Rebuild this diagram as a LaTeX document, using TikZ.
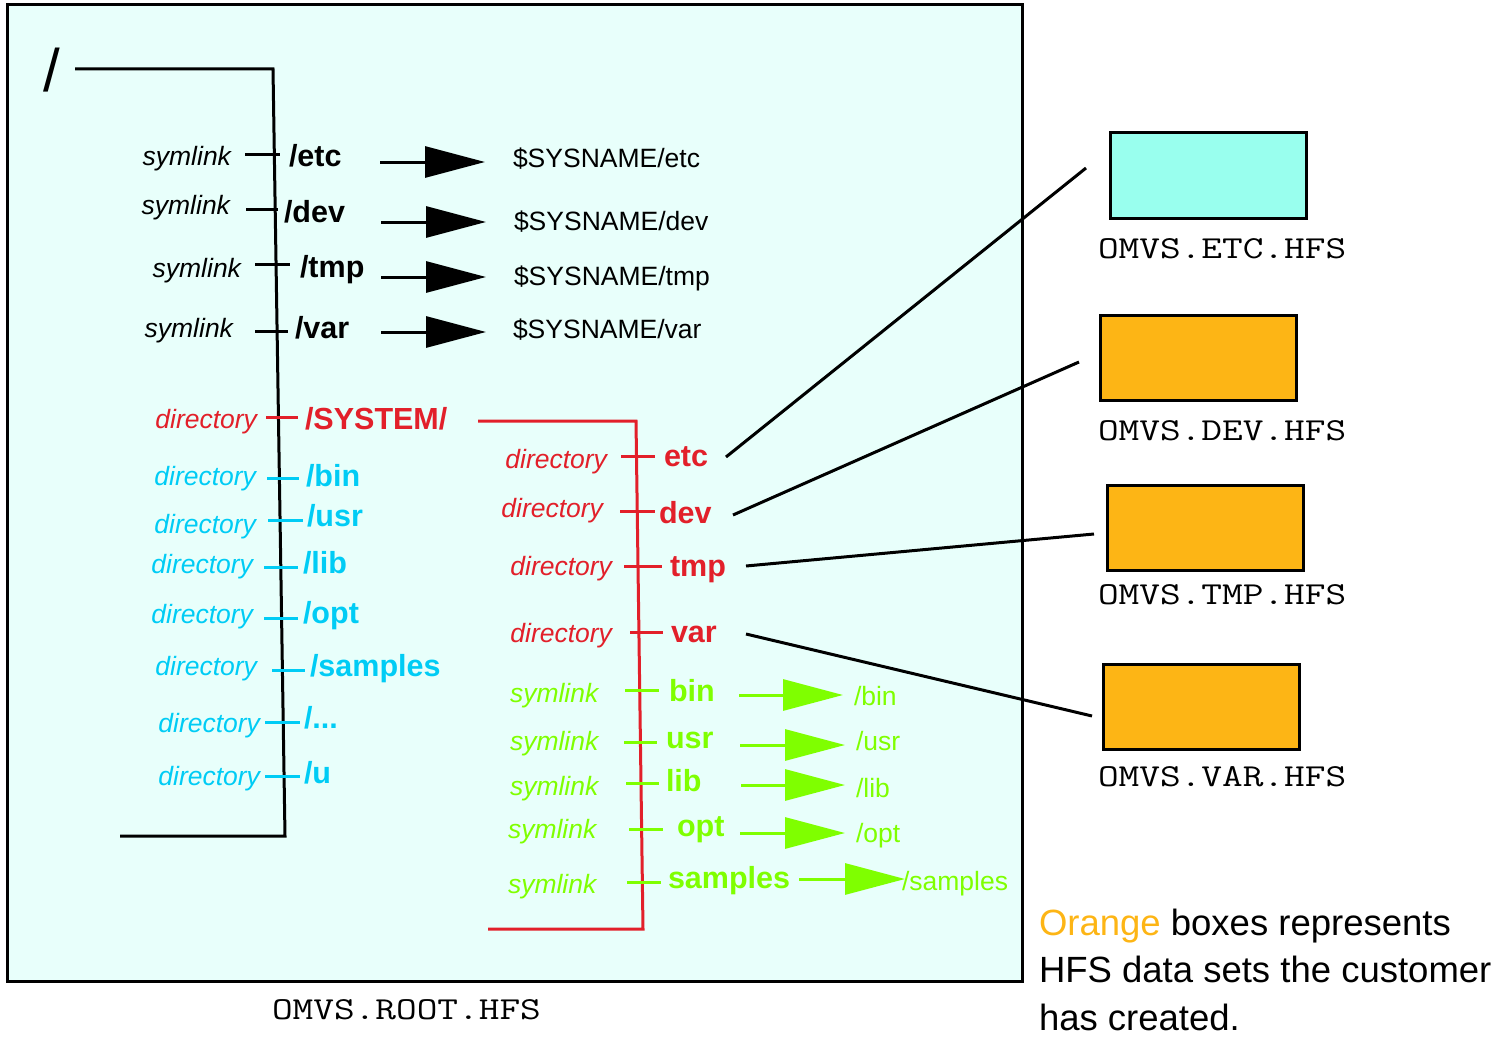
\documentclass[tikz,border=0pt]{standalone}
\usepackage{fontspec}
\setmainfont{Liberation Sans}
\usetikzlibrary{arrows.meta}
\definecolor{bgc}{HTML}{E8FFFB}
\definecolor{rdc}{HTML}{E2202A}
\definecolor{cyc}{HTML}{00CCF5}
\definecolor{grc}{HTML}{7FFF00}
\definecolor{orc}{HTML}{FDB515}
\definecolor{etcc}{HTML}{99FFEE}
\newcommand{\wmono}[1]{\scalebox{1.255}[1]{#1}}
\begin{document}
\begin{tikzpicture}[x=1pt,y=-1pt,
  every node/.style={inner sep=0pt, outer sep=0pt},
  lab/.style={font=\fontsize{26.5}{30}\selectfont\itshape, anchor=base east},
  labw/.style={font=\fontsize{26.5}{30}\selectfont\itshape, anchor=base west},
  big/.style={font=\fontsize{30.5}{34}\selectfont\bfseries, anchor=base west},
  tgt/.style={font=\fontsize{26.5}{30}\selectfont, anchor=base west},
  mono/.style={font=\fontsize{32}{36}\selectfont\ttfamily, anchor=base west},
  tk/.style={line width=3pt},
  arr/.style={line width=3pt, -{Triangle[length=60pt,width=31pt]}},
  hfs/.style={draw, line width=3pt, minimum width=196pt, minimum height=85pt, anchor=north west},
]
\useasboundingbox (0,0) rectangle (1501,1038);
% main box
\node[draw, line width=3pt, fill=bgc, minimum width=1015pt, minimum height=976pt, anchor=north west] (rootbox) at (7,5) {};
\node[mono] (rootlbl) at (272,1019) {\wmono{OMVS.ROOT.HFS}};

% root tree
\node[font=\fontsize{60}{64}\selectfont, anchor=base west] (slash) at (43,92) {/};
\draw[tk] (75,69) -- (273,69) -- (285,836) -- (120,836);

% black symlinks
\node[lab] (s1) at (231,165) {symlink};
\draw[tk] (245,154) -- (280,154);
\node[big] (n1) at (289,166) {/etc};
\draw[arr] (380,162) -- (485,162);
\node[tgt] (t1) at (513,167) {\$SYSNAME/etc};

\node[lab] (s2) at (230,214) {symlink};
\draw[tk] (246,209) -- (278,209);
\node[big] (n2) at (284,222) {/dev};
\draw[arr] (381,222) -- (486,222);
\node[tgt] (t2) at (514,230) {\$SYSNAME/dev};

\node[lab] (s3) at (241,277) {symlink};
\draw[tk] (255,264) -- (290,264);
\node[big] (n3) at (300,277) {/tmp};
\draw[arr] (381,277) -- (486,277);
\node[tgt] (t3) at (514,285) {\$SYSNAME/tmp};

\node[lab] (s4) at (233,337) {symlink};
\draw[tk] (255,331) -- (288,331);
\node[big] (n4) at (295,338) {/var};
\draw[arr] (381,332) -- (486,332);
\node[tgt] (t4) at (513,338) {\$SYSNAME/var};

% red SYSTEM
\begin{scope}[rdc]
\node[lab, text=rdc] (d0) at (257,428) {directory};
\draw[tk] (266,417) -- (298,417);
\node[big, text=rdc] (sys) at (305,429) {/SYSTEM/};
\draw[tk] (478,421) -- (636,421) -- (643,929) -- (488,929);
\end{scope}

% cyan directories
\begin{scope}[cyc]
\node[lab, text=cyc] (c1) at (256,485) {directory};
\draw[tk] (267,478) -- (299,478);
\node[big, text=cyc] (m1) at (306,486) {/bin};
\node[lab, text=cyc] (c2) at (256,533) {directory};
\draw[tk] (268,520) -- (303,520);
\node[big, text=cyc] (m2) at (307,526) {/usr};
\node[lab, text=cyc] (c3) at (253,573) {directory};
\draw[tk] (264,567) -- (298,567);
\node[big, text=cyc] (m3) at (303,573) {/lib};
\node[lab, text=cyc] (c4) at (253,623) {directory};
\draw[tk] (264,618) -- (298,618);
\node[big, text=cyc] (m4) at (303,623) {/opt};
\node[lab, text=cyc] (c5) at (257,675) {directory};
\draw[tk] (272,670) -- (305,670);
\node[big, text=cyc] (m5) at (310,676) {/samples};
\node[lab, text=cyc] (c6) at (260,732) {directory};
\draw[tk] (265,722) -- (300,722);
\node[big, text=cyc] (m6) at (304,728) {/...};
\node[lab, text=cyc] (c7) at (260,785) {directory};
\draw[tk] (265,776) -- (300,776);
\node[big, text=cyc] (m7) at (304,783) {/u};
\end{scope}

% red sub directories
\begin{scope}[rdc]
\node[lab, text=rdc] (r1) at (607,468) {directory};
\draw[tk] (621,456) -- (655,456);
\node[big, text=rdc] (retc) at (664,466) {etc};
\node[lab, text=rdc] (r2) at (603,517) {directory};
\draw[tk] (620,511) -- (655,511);
\node[big, text=rdc] (rdev) at (659,523) {dev};
\node[lab, text=rdc] (r3) at (612,575) {directory};
\draw[tk] (624,566) -- (662,566);
\node[big, text=rdc] (rtmp) at (670,576) {tmp};
\node[lab, text=rdc] (r4) at (612,642) {directory};
\draw[tk] (630,632) -- (663,632);
\node[big, text=rdc] (rvar) at (671,642) {var};
\end{scope}

% green symlinks
\begin{scope}[grc]
\node[labw, text=grc] (g1) at (510,702) {symlink};
\draw[tk] (625,690) -- (659,690);
\node[big, text=grc] (gb1) at (669,701) {bin};
\draw[arr] (739,695) -- (843,695);
\node[tgt, text=grc] (gt1) at (854,705) {/bin};

\node[labw, text=grc] (g2) at (510,750) {symlink};
\draw[tk] (624,742) -- (657,742);
\node[big, text=grc] (gb2) at (666,748) {usr};
\draw[arr] (740,745) -- (845,745);
\node[tgt, text=grc] (gt2) at (856,750) {/usr};

\node[labw, text=grc] (g3) at (510,795) {symlink};
\draw[tk] (626,783) -- (659,783);
\node[big, text=grc] (gb3) at (666,791) {lib};
\draw[arr] (741,785) -- (845,785);
\node[tgt, text=grc] (gt3) at (856,797) {/lib};

\node[labw, text=grc] (g4) at (508,838) {symlink};
\draw[tk] (629,829) -- (663,829);
\node[big, text=grc] (gb4) at (677,836) {opt};
\draw[arr] (740,833) -- (845,833);
\node[tgt, text=grc] (gt4) at (856,842) {/opt};

\node[labw, text=grc] (g5) at (508,893) {symlink};
\draw[tk] (627,882) -- (661,882);
\node[big, text=grc] (gb5) at (668,888) {samples};
\draw[arr] (799,879) -- (905,879);
\node[tgt, text=grc] (gt5) at (902,890) {/samples};
\end{scope}

% HFS boxes
\node[hfs, fill=etcc] (betc) at (1110,133) {};
\node[mono] (letc) at (1098,258) {\wmono{OMVS.ETC.HFS}};
\node[hfs, fill=orc] (bdev) at (1100,315) {};
\node[mono] (ldev) at (1098,440) {\wmono{OMVS.DEV.HFS}};
\node[hfs, fill=orc] (btmp) at (1107,485) {};
\node[mono] (ltmp) at (1098,604) {\wmono{OMVS.TMP.HFS}};
\node[hfs, fill=orc] (bvar) at (1103,664) {};
\node[mono] (lvar) at (1098,786) {\wmono{OMVS.VAR.HFS}};

% connectors to boxes
\draw[tk] (726,457) -- (1086,168);
\draw[tk] (733,515) -- (1079,362);
\draw[tk] (746,566) -- (1094,534);
\draw[tk] (746,634) -- (1092,716);

% legend
\begin{scope}[every node/.append style={font=\fontsize{36.5}{40}\selectfont, anchor=base west}]
\node (leg1) at (1039,935) {\textcolor{orc}{Orange} boxes represents};
\node (leg2) at (1039,982) {HFS data sets the customer};
\node (leg3) at (1039,1030) {has created.};
\end{scope}
\end{tikzpicture}
\end{document}
